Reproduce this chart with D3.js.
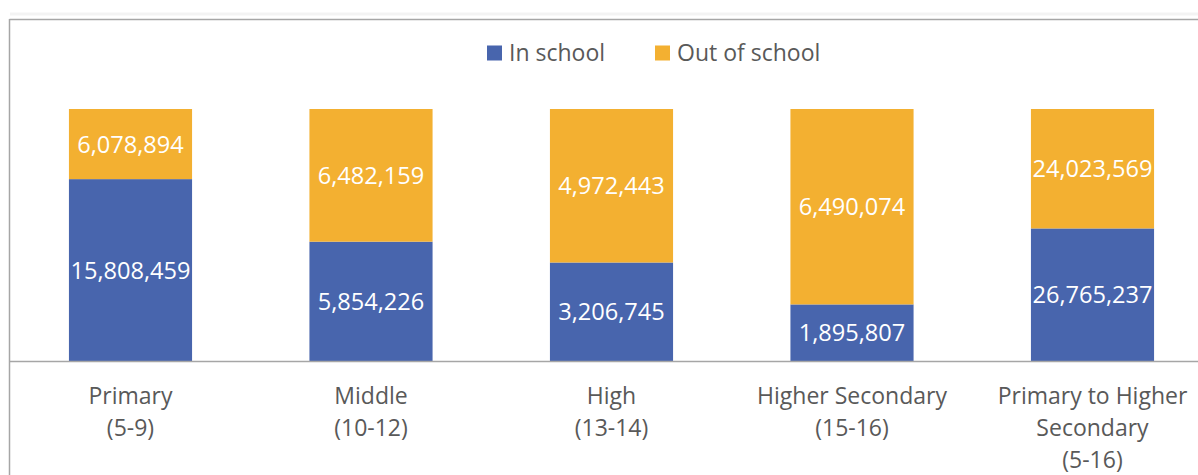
<!DOCTYPE html>
<html>
<head>
<meta charset="utf-8">
<script src="https://cdn.jsdelivr.net/npm/d3@7"></script>
<style>
  html, body { margin: 0; padding: 0; background: #ffffff; }
  svg { display: block; }
</style>
</head>
<body>
<svg id="chart" width="1198" height="475"></svg>
<script>
const categories = [
  ["Primary", "(5-9)"],
  ["Middle", "(10-12)"],
  ["High", "(13-14)"],
  ["Higher Secondary", "(15-16)"],
  ["Primary to Higher", "Secondary", "(5-16)"]
];
const seriesNames = ["In school", "Out of school"];
const inSchool = [15808459, 5854226, 3206745, 1895807, 26765237];
const outOfSchool = [6078894, 6482159, 4972443, 6490074, 24023569];
const colors = ["#4865ad", "#f3b031"];

const W = 1198, H = 475;
const svg = d3.select("#chart");
const font = "'Open Sans', sans-serif";

const rows = categories.map((c, i) => ({ key: i, "In school": inSchool[i], "Out of school": outOfSchool[i] }));
const stack = d3.stack().keys(seriesNames).offset(d3.stackOffsetExpand);
const stacked = stack(rows);

const x = d3.scaleBand().domain(d3.range(categories.length)).range([10.25, 1212.75]).paddingInner(0.488).paddingOuter(0.244);
const y = d3.scaleLinear().domain([0, 1]).range([361.5, 109]);

// frame
svg.append("line").attr("x1", 10).attr("x2", W).attr("y1", 14).attr("y2", 14).attr("stroke", "#f3f3f3").attr("stroke-width", 3);
svg.append("line").attr("x1", 9.5).attr("x2", W).attr("y1", 19.5).attr("y2", 19.5).attr("stroke", "#a6a6a6").attr("stroke-width", 1.5);
svg.append("line").attr("x1", 9.5).attr("x2", 9.5).attr("y1", 19).attr("y2", H).attr("stroke", "#a6a6a6").attr("stroke-width", 1.5);

// bars
const g = svg.append("g");
stacked.forEach((s, si) => {
  g.selectAll(null).data(s).enter().append("rect")
    .attr("x", (d, i) => x(i))
    .attr("width", x.bandwidth())
    .attr("y", d => y(d[1]))
    .attr("height", d => y(d[0]) - y(d[1]))
    .attr("fill", colors[si]);
  g.selectAll(null).data(s).enter().append("text")
    .attr("x", (d, i) => x(i) + x.bandwidth() / 2)
    .attr("y", d => (y(d[0]) + y(d[1])) / 2)
    .attr("dy", "0.36em")
    .attr("text-anchor", "middle")
    .attr("fill", "#ffffff")
    .style("font-family", font)
    .style("font-size", "23.6px")
    .text((d, i) => d3.format(",")(si === 0 ? inSchool[i] : outOfSchool[i]));
});

// x axis baseline
const xAxis = d3.axisBottom(x).tickSize(0).tickFormat("");
const ax = svg.append("g").attr("transform", `translate(0,${y(0)})`).call(xAxis);
ax.select(".domain").remove();
svg.append("line").attr("x1", 10).attr("x2", W).attr("y1", 361.5).attr("y2", 361.5).attr("stroke", "#a6a6a6").attr("stroke-width", 1.5);

// category labels
categories.forEach((lines, i) => {
  const t = svg.append("text")
    .attr("x", x(i) + x.bandwidth() / 2)
    .attr("y", 404)
    .attr("text-anchor", "middle")
    .attr("fill", "#595959")
    .style("font-family", font)
    .style("font-size", "23px");
  lines.forEach((ln, k) => {
    t.append("tspan").attr("x", x(i) + x.bandwidth() / 2).attr("y", 404 + k * 32).text(ln);
  });
});

// legend
const legendItems = [
  { name: seriesNames[0], color: colors[0], x: 487 },
  { name: seriesNames[1], color: colors[1], x: 655 }
];
legendItems.forEach(it => {
  svg.append("rect").attr("x", it.x).attr("y", 45.5).attr("width", 15).attr("height", 15).attr("fill", it.color);
  svg.append("text").attr("x", it.x + 22).attr("y", 60.5)
    .attr("fill", "#595959")
    .style("font-family", font)
    .style("font-size", "23px")
    .text(it.name);
});
</script>
</body>
</html>
